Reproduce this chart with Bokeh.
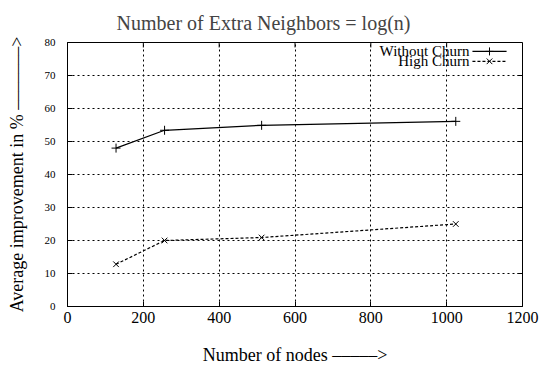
from bokeh.plotting import figure
from bokeh.models import Range1d, FixedTicker, Label
from bokeh.embed import file_html
from bokeh.resources import INLINE

# ---- data ----
nodes = [128, 256, 512, 1024]
without_churn = [48.0, 53.4, 54.9, 56.1]
high_churn = [12.8, 20.0, 20.9, 25.0]
x_ticks = [0, 200, 400, 600, 800, 1000, 1200]
y_ticks = [0, 10, 20, 30, 40, 50, 60, 70, 80]
series_names = ["Without Churn", "High Churn"]
title_text = "Number of Extra Neighbors = log(n)"
x_label = "Number of nodes \u2013\u2013\u2013\u2013\u2013>"
y_label = "Average improvement in % \u2013\u2013\u2013\u2013\u2013\u2013\u2013>"

FONT = "Liberation Serif"
X0, X1, Y0, Y1 = 0, 1200, 0, 80

W, H = 557, 369
BL, BR, BT, BB = 67, 35, 41, 63
FW, FH = W - BL - BR, H - BT - BB

p = figure(width=W, height=H, output_backend="svg", toolbar_location=None,
           x_range=Range1d(X0, X1), y_range=Range1d(Y0, Y1),
           min_border_left=BL, min_border_right=BR, min_border_top=BT,
           min_border_bottom=BB, background_fill_color="white",
           border_fill_color="white")

p.title.text = title_text
p.title.text_font = FONT
p.title.text_font_size = "20px"
p.title.text_font_style = "normal"
p.title.align = "left"
p.title.offset = 49
p.title.standoff = 18

p.outline_line_color = "black"
p.outline_line_alpha = 1
p.outline_line_width = 1

for ax in (p.xaxis[0], p.yaxis[0]):
    ax.axis_line_color = "black"
    ax.major_tick_line_color = "black"
    ax.major_tick_in = 5
    ax.major_tick_out = 0
    ax.minor_tick_line_color = None
    ax.major_label_text_font = FONT
    ax.major_label_text_font_style = "normal"
    ax.major_label_text_color = "black"
    ax.axis_label_text_font = FONT
    ax.axis_label_text_font_style = "normal"
    ax.axis_label_text_color = "black"

p.xaxis[0].ticker = FixedTicker(ticks=x_ticks)
p.yaxis[0].ticker = FixedTicker(ticks=y_ticks)
p.xaxis[0].major_label_text_font_size = "16px"
p.yaxis[0].major_label_text_font_size = "11px"
p.xaxis[0].major_label_standoff = 5
p.yaxis[0].major_label_standoff = 12
p.xaxis[0].axis_label = x_label
p.yaxis[0].axis_label = y_label
p.xaxis[0].axis_label_text_font_size = "18px"
p.yaxis[0].axis_label_text_font_size = "18px"
p.xaxis[0].axis_label_standoff = 19
p.yaxis[0].axis_label_standoff = 15

p.xgrid.ticker = FixedTicker(ticks=x_ticks)
p.ygrid.ticker = FixedTicker(ticks=y_ticks)
for g in (p.xgrid, p.ygrid):
    g.grid_line_color = "black"
    g.grid_line_alpha = 1
    g.grid_line_width = 1
    g.grid_line_dash = "2 3"

# mirrored inward ticks on the right and top edges (gnuplot style)
tick_len = 5
dx = tick_len * (X1 - X0) / FW
dy = tick_len * (Y1 - Y0) / FH
p.segment(x0=[X1] * len(y_ticks), y0=y_ticks, x1=[X1 - dx] * len(y_ticks), y1=y_ticks,
          line_color="black", line_width=1)
p.segment(x0=x_ticks, y0=[Y1] * len(x_ticks), x1=x_ticks, y1=[Y1 - dy] * len(x_ticks),
          line_color="black", line_width=1)

# series
p.line(nodes, without_churn, line_color="black", line_width=1.2)
p.scatter(nodes, without_churn, marker="cross", size=9, line_color="black", line_width=1)
p.line(nodes, high_churn, line_color="black", line_width=1.2, line_dash="3 2")
p.scatter(nodes, high_churn, marker="x", size=8, line_color="black", line_width=1)

# gnuplot-style key (text right-aligned, sample to the right)
key_y = [77.3, 74.3]
key_text_x = 1060
key_line_x = [1068, 1158]
key_mid = 1113
for name, ky, dash, mk in zip(series_names, key_y, ["solid", "3 2"], ["cross", "x"]):
    p.add_layout(Label(x=key_text_x, y=ky, text=name, text_align="right",
                       text_baseline="middle", text_font=FONT,
                       text_font_size="15px", text_color="black"))
    p.line(key_line_x, [ky, ky], line_color="black", line_width=1.2, line_dash=dash)
    p.scatter([key_mid], [ky], marker=mk, size=8, line_color="black", line_width=1)

open("out.html", "w").write(file_html(p, INLINE))
